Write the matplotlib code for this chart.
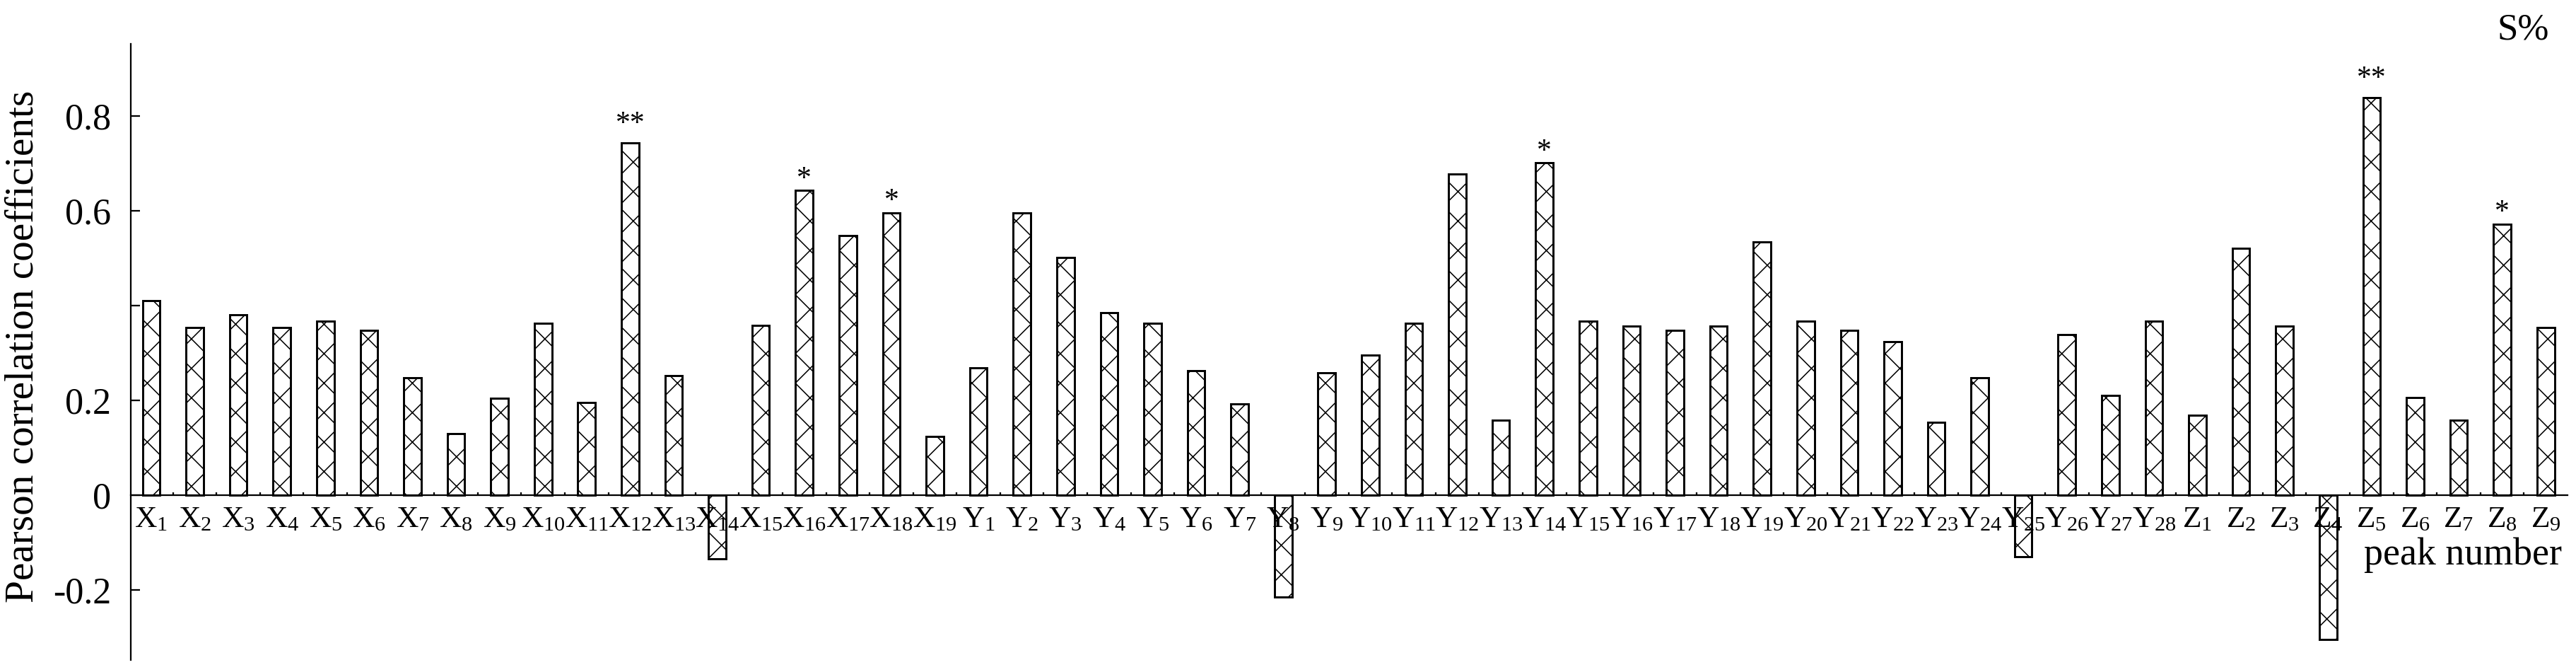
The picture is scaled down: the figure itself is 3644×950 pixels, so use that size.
import numpy as np
import matplotlib
matplotlib.use('Agg')
import matplotlib.pyplot as plt
from matplotlib.ticker import FixedLocator

plt.rcParams['font.family'] = ['Liberation Serif', 'DejaVu Serif']
plt.rcParams['mathtext.fontset'] = 'custom'
plt.rcParams['mathtext.rm'] = 'Liberation Serif'
plt.rcParams['mathtext.it'] = 'Liberation Serif:italic'
plt.rcParams['hatch.linewidth'] = 0.9

# peak correlation values
x_vals = [0.410, 0.353, 0.381, 0.353, 0.367, 0.348, 0.248, 0.129, 0.204, 0.363,
          0.196, 0.743, 0.252, -0.134, 0.358, 0.643, 0.548, 0.596, 0.124]
y_vals = [0.268, 0.596, 0.501, 0.385, 0.362, 0.262, 0.192, -0.215, 0.258, 0.296,
          0.363, 0.677, 0.158, 0.701, 0.367, 0.357, 0.348, 0.357, 0.534, 0.367,
          0.348, 0.324, 0.153, 0.248, -0.130, 0.338, 0.210, 0.367]
z_vals = [0.168, 0.520, 0.357, -0.304, 0.839, 0.205, 0.158, 0.572, 0.353]

names = (['X%d' % i for i in range(1, len(x_vals) + 1)] +
         ['Y%d' % i for i in range(1, len(y_vals) + 1)] +
         ['Z%d' % i for i in range(1, len(z_vals) + 1)])
values = x_vals + y_vals + z_vals

# significance marks
sig_names = ['X12', 'X16', 'X18', 'Y14', 'Z5', 'Z8']
sig_marks = ['**', '*', '*', '*', '**', '*']

ytick_vals = [-0.2, 0, 0.2, 0.4, 0.6, 0.8]
ytick_labels = ['-0.2', '0', '0.2', '', '0.6', '0.8']

W, H = 3644, 950
fig = plt.figure(figsize=(W / 125, H / 125), dpi=125)
ax = fig.add_axes([185 / W, 1 - 933 / H, (3632 - 185) / W, (933 - 62) / H])

pos = np.arange(len(values))
ax.bar(pos, values, width=0.4, color='white', edgecolor='black',
       linewidth=1.7, hatch='x', zorder=1)

ax.set_xlim(-0.47, len(values) - 0.5)
ax.set_ylim(-0.348, 0.952)

ax.spines['top'].set_visible(False)
ax.spines['right'].set_visible(False)
ax.spines['bottom'].set_position(('data', 0))
ax.spines['bottom'].set_linewidth(1.3)
ax.spines['left'].set_linewidth(1.3)

lab = [r'$\mathrm{%s}_{%s}$' % (n[0], n[1:]) for n in names]
ax.set_xticks(pos)
ax.set_xticklabels(lab, fontsize=25)
ax.xaxis.set_minor_locator(FixedLocator(pos[:-1] + 0.5))
ax.tick_params(axis='x', which='major', length=0, pad=9)
ax.tick_params(axis='x', which='minor', direction='in', length=2.5, width=1.3)

ax.set_yticks(ytick_vals)
ax.set_yticklabels(ytick_labels, fontsize=30)
ax.tick_params(axis='y', direction='in', length=7.5, width=1.3, pad=16)

for n, m in zip(sig_names, sig_marks):
    i = names.index(n)
    off = 9 if len(m) > 1 else 3
    ax.annotate(m, (i, values[i]), xytext=(0, off), textcoords='offset points',
                ha='center', va='baseline', fontsize=24)

fig.text(33 / W, 1 - 490 / H, 'Pearson correlation coefficients',
         rotation=90, ha='center', va='center', fontsize=33)
fig.text(3624 / W, 1 - 798 / H, 'peak number', ha='right', va='baseline',
         fontsize=31)
fig.text(3606 / W, 1 - 55 / H, 'S%', ha='right', va='baseline', fontsize=30.5)

fig.savefig('out.png', dpi=125)
